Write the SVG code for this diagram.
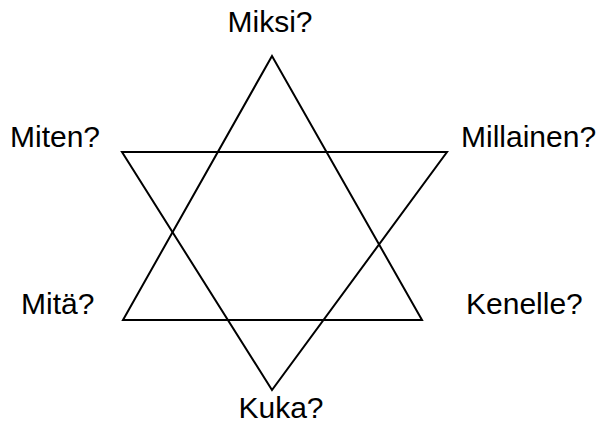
<svg xmlns="http://www.w3.org/2000/svg" width="607" height="425" viewBox="0 0 607 425">
<style>
.t{font-family:"Liberation Sans",Arial,sans-serif;font-size:30px;fill:#000}
.s{fill:none;stroke:#000;stroke-width:2;stroke-linejoin:miter}
</style>
<rect width="607" height="425" fill="#fff"/>
<g id="connectors">
<polygon class="s" points="272,56 123,320 422,320"/>
<polygon class="s" points="122,152 447,152 272,390"/>
</g>
<g id="miksi"><text class="t" x="270" y="32" text-anchor="middle">Miksi?</text></g>
<g id="miten"><text class="t" x="10" y="147">Miten?</text></g>
<g id="millainen"><text class="t" x="461" y="147">Millainen?</text></g>
<g id="mita"><text class="t" x="21" y="314">Mitä?</text></g>
<g id="kenelle"><text class="t" x="466" y="314">Kenelle?</text></g>
<g id="kuka"><text class="t" x="281" y="418" text-anchor="middle">Kuka?</text></g>
</svg>
